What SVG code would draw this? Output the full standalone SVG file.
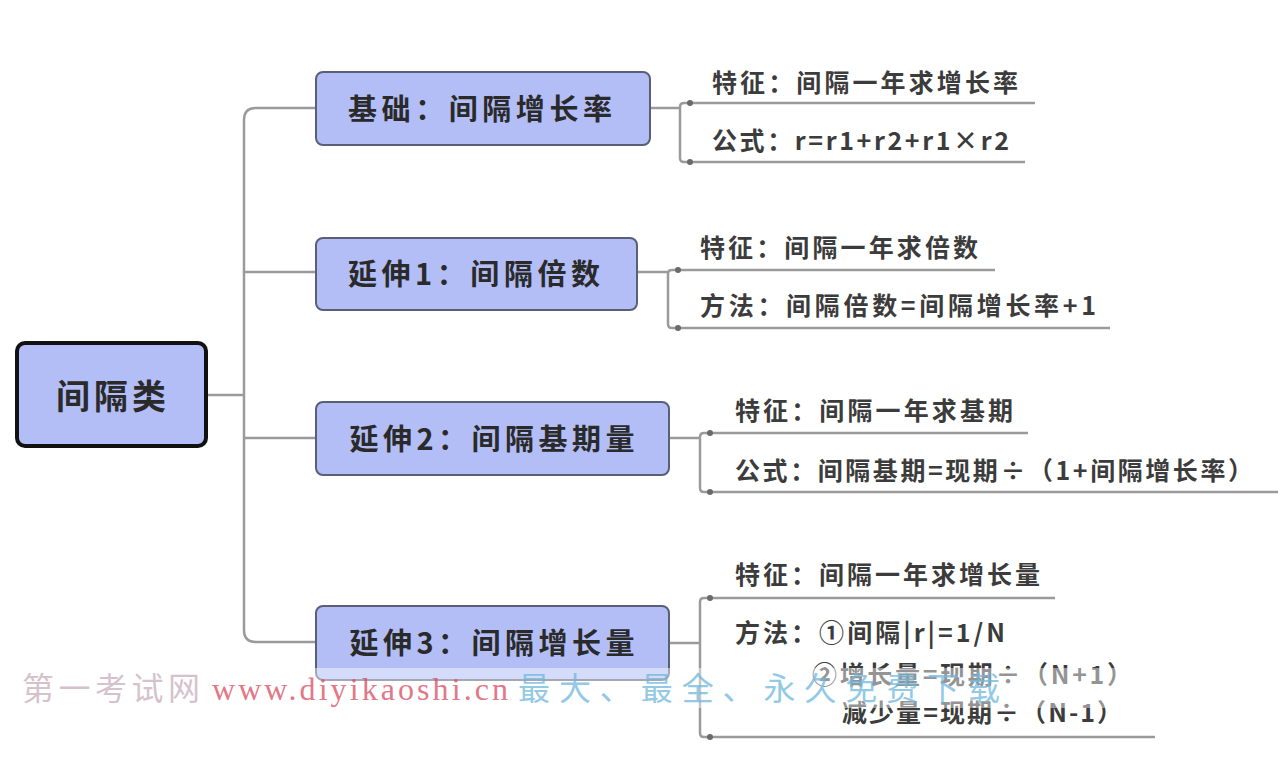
<svg xmlns="http://www.w3.org/2000/svg" width="1287" height="763" viewBox="0 0 1287 763">
<style>
.bg{fill:#ffffff}
.node{fill:#b3bdf6;stroke:#5a5f78;stroke-width:2}
.root{fill:#b3bdf6;stroke:#111111;stroke-width:4}
.ntext{font-family:"Noto Sans CJK SC","Liberation Sans",sans-serif;font-weight:bold;fill:#2a2a2a}
.ctext{font-family:"Noto Sans CJK SC","Liberation Sans",sans-serif;font-weight:bold;font-size:25px;fill:#3c3c3c}
.line{fill:none;stroke:#9a9a9a;stroke-width:2.5}
.dot{fill:#6a6a6a}
.wm{font-family:"Liberation Serif","Noto Sans CJK SC",serif;font-size:32px}
</style>
<rect class="bg" x="0" y="0" width="1287" height="763"/>
<g id="connectors">
<path class="line" d="M207,395 H244"/>
<path class="line" d="M316,108 H256 Q244,108 244,120 V630 Q244,642 256,642 H316"/>
<path class="line" d="M244,272 H316"/>
<path class="line" d="M244,438 H316"/>
<path class="line" d="M650,108 H680"/>
<path class="line" d="M1035,103 H684 Q680,103 680,107 V158 Q680,162 684,162 H1025"/>
<circle class="dot" cx="690" cy="103" r="3"/>
<circle class="dot" cx="690" cy="162" r="3"/>
<path class="line" d="M637,272 H668"/>
<path class="line" d="M995,270 H672 Q668,270 668,274 V324 Q668,328 672,328 H1110"/>
<circle class="dot" cx="678" cy="270" r="3"/>
<circle class="dot" cx="678" cy="328" r="3"/>
<path class="line" d="M669,438 H700"/>
<path class="line" d="M1028,433 H704 Q700,433 700,437 V488 Q700,492 704,492 H1278"/>
<circle class="dot" cx="710" cy="433" r="3"/>
<circle class="dot" cx="710" cy="492" r="3"/>
<path class="line" d="M669,643 H700"/>
<path class="line" d="M1055,598 H704 Q700,598 700,602 V733 Q700,737 704,737 H1155"/>
<circle class="dot" cx="710" cy="598" r="3"/>
<circle class="dot" cx="710" cy="737" r="3"/>
</g>
<g id="root">
<rect class="root" x="17" y="343" width="189" height="103" rx="8"/>
<text class="ntext" x="111" y="409" font-size="34" text-anchor="middle" textLength="110">间隔类</text>
</g>
<g id="node-base">
<rect class="node" x="316" y="72" width="334" height="73" rx="7"/>
<text class="ntext" x="480" y="120" font-size="29" text-anchor="middle" textLength="264">基础：间隔增长率</text>
</g>
<g id="node-ext1">
<rect class="node" x="316" y="238" width="321" height="72" rx="7"/>
<text class="ntext" x="474" y="285" font-size="29" text-anchor="middle" textLength="252">延伸1：间隔倍数</text>
</g>
<g id="node-ext2">
<rect class="node" x="316" y="402" width="353" height="73" rx="7"/>
<text class="ntext" x="492" y="450" font-size="29" text-anchor="middle" textLength="285">延伸2：间隔基期量</text>
</g>
<g id="node-ext3">
<rect class="node" x="316" y="606" width="353" height="74" rx="7"/>
<text class="ntext" x="492" y="654" font-size="29" text-anchor="middle" textLength="285">延伸3：间隔增长量</text>
</g>
<g id="leaf-base-1"><text class="ctext" x="712" y="92" textLength="306">特征：间隔一年求增长率</text></g>
<g id="leaf-base-2"><text class="ctext" x="712" y="150" textLength="297">公式：r=r1+r2+r1×r2</text></g>
<g id="leaf-ext1-1"><text class="ctext" x="700" y="257" textLength="278">特征：间隔一年求倍数</text></g>
<g id="leaf-ext1-2"><text class="ctext" x="700" y="315" textLength="396">方法：间隔倍数=间隔增长率+1</text></g>
<g id="leaf-ext2-1"><text class="ctext" x="735" y="420" textLength="278">特征：间隔一年求基期</text></g>
<g id="leaf-ext2-2"><text class="ctext" x="735" y="480" textLength="518">公式：间隔基期=现期÷（1+间隔增长率）</text></g>
<g id="leaf-ext3-1"><text class="ctext" x="735" y="584" textLength="305">特征：间隔一年求增长量</text></g>
<g id="leaf-ext3-2">
<text class="ctext" x="735" y="642" textLength="270">方法：①间隔|r|=1/N</text>
<text class="ctext" x="812" y="684" textLength="320">②增长量=现期÷（N+1）</text>
<text class="ctext" x="842" y="722" textLength="280">减少量=现期÷（N-1）</text>
</g>
<rect x="0" y="668" width="1287" height="40" fill="#ffffff" opacity="0.45"/>
<g id="watermark" opacity="0.75">
<text class="wm" x="22" y="700" fill="#c9aebb" textLength="178">第一考试网</text>
<text class="wm" x="212" y="700" fill="#d94a5e" textLength="296">www.diyikaoshi.cn</text>
<text class="wm" x="518" y="700" fill="#6fb8dc" textLength="482">最大、最全、永久免费下载</text>
</g>
</svg>
